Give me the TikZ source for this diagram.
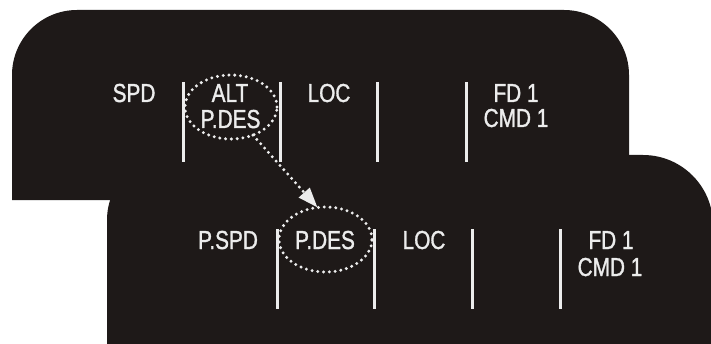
\documentclass[tikz,border=0pt]{standalone}
\usepackage{fontspec}
\setmainfont[FakeStretch=0.8, FakeBold=1.2]{Liberation Sans}
\usetikzlibrary{arrows.meta,shapes.geometric}
\definecolor{panelblack}{RGB}{30,25,24}
\definecolor{ink}{RGB}{236,236,236}
\tikzset{
  x=1pt, y=1pt,
  panel/.style={fill=panelblack},
  label/.style={text=ink, font=\fontsize{26}{28}\selectfont, anchor=base, inner sep=0pt},
  divider/.style={draw=ink, line width=3pt},
  dotline/.style={draw=ink, line width=3.3pt, line cap=round, dash pattern=on 0pt off 5.8pt},
  ring/.style={ellipse, dotline, inner sep=0pt, outer sep=0pt},
}
\begin{document}
\begin{tikzpicture}
\clip (0,0) rectangle (711,343);
\fill[white] (0,0) rectangle (711,343);

% upper display panel
\fill[panel] (12,143) -- (12,268) arc[start angle=180, end angle=90, radius=65]
  -- (564,333) arc[start angle=90, end angle=0, radius=65] -- (629,143) -- cycle;

% lower display panel, in front
\fill[panel] (107,-20) -- (107,123) arc[start angle=180, end angle=90, radius=65]
  -- (643,188) arc[start angle=90, end angle=0, radius=70] -- (713,-20) -- cycle;

% upper mode annunciator row
\node[label] (spd1) at (134,241) {SPD};
\node[label] (alt1) at (230,241) {ALT};
\node[label] (pdes1) at (230.5,215) {P.DES};
\node[label] (loc1) at (329,241) {LOC};
\node[label] (fd1) at (516,241) {FD 1};
\node[label] (cmd1) at (516,216) {CMD 1};
\foreach \x in {183,280,377,466} \draw[divider] (\x,261) -- (\x,181);

% lower mode annunciator row
\node[label] (spd2) at (228,94) {P.SPD};
\node[label] (pdes2) at (325,94) {P.DES};
\node[label] (loc2) at (424,94) {LOC};
\node[label] (fd2) at (611,94) {FD 1};
\node[label] (cmd2) at (610,67) {CMD 1};
\foreach \x in {277,374,472,560} \draw[divider] (\x,114) -- (\x,34);

% highlighted vertical modes
\node[ring, minimum width=92pt, minimum height=64pt] (e1) at (231,236) {};
\node[ring, minimum width=93pt, minimum height=65pt] (e2) at (325.5,103.5) {};
\draw[dotline, -{Triangle[length=20pt, width=14pt]}] (e1.-52) -- (e2.104);
\end{tikzpicture}
\end{document}
